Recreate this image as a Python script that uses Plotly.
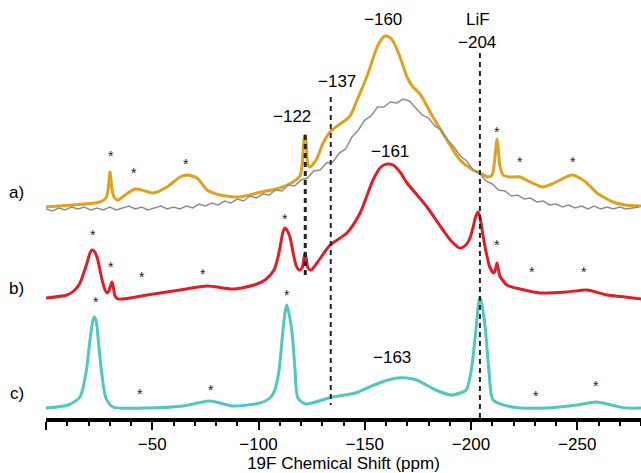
import plotly.graph_objects as go

# ---- data (ppm, offset intensity a.u.) ----
ppm_a = [0, 12.7, 25.4, 28.2, 29.2, 30.1, 31.1, 32.0, 33.9, 37.2, 41.9, 46.6, 50.4, 56.9, 63.1, 66.4,
         71.1, 75.8, 81.9, 91.3, 99.3, 110.1, 116.2, 119.5, 120.5, 121.4, 121.9, 122.4, 123.3, 124.2,
         127.1, 130.4, 133.7, 137.0, 139.8, 143.1, 146.4, 151.1, 155.8, 157.6, 159.5, 161.4, 163.3,
         166.6, 169.9, 172.7, 176.0, 182.1, 188.7, 194.8, 200.9, 204.2, 208.0, 209.9, 210.8, 211.8,
         212.2, 212.7, 213.6, 215.1, 218.4, 223.1, 227.8, 233.9, 238.1, 241.9, 247.5, 252.7, 256.0,
         259.3, 266.8, 272.5, 280]
int_a = [211, 213, 216, 220, 228, 246, 228, 221, 218, 223, 229, 227, 225, 231, 241, 243,
         240, 228, 223, 221, 225, 230, 236, 242, 253, 278, 283, 276, 253, 251,
         258, 275, 286, 292, 296, 302, 318, 342, 371, 378, 382, 381, 377,
         361, 341, 331, 324, 301, 278, 258, 248, 245, 241, 243, 252, 272,
         279, 272, 252, 243, 241, 241, 236, 231, 234, 238, 243, 238, 232,
         225, 216, 213, 212]

ppm_ref = [0, 3, 6, 9, 12, 15, 18, 21, 24, 27, 30, 33, 36, 39, 42, 45, 48, 51, 54, 57, 60, 63, 66,
           69, 72, 75, 78, 81, 84, 87, 90, 93, 96, 99, 102, 105, 108, 111, 114, 117, 120, 123, 126,
           129, 132, 135, 138, 141, 144, 147, 150, 153, 156, 159, 162, 165, 168, 171, 174, 177, 180,
           183, 186, 189, 192, 195, 198, 201, 204, 207, 210, 213, 216, 219, 222, 225, 228, 231, 234,
           237, 240, 243, 246, 249, 252, 255, 258, 261, 264, 267, 270, 273, 276, 279]
int_ref = [209, 207, 210, 208, 211, 209, 211, 208, 210, 208, 211, 208, 210, 212, 209, 211, 208, 210,
           212, 209, 211, 209, 212, 210, 214, 212, 215, 213, 217, 215, 219, 217, 222, 220, 224, 223,
           228, 227, 233, 232, 238, 240, 247, 248, 255, 256, 265, 269, 281, 288, 298, 302, 311, 311,
           316, 315, 319, 317, 310, 303, 300, 292, 288, 278, 271, 262, 257, 248, 245, 237, 234, 228,
           227, 222, 223, 219, 220, 216, 217, 213, 214, 211, 213, 210, 212, 209, 212, 209, 211, 209,
           211, 209, 210, 211]

ppm_b = [0, 9.9, 13.6, 16.0, 17.9, 19.3, 20.7, 21.6, 22.6, 24.0, 25.4, 26.4, 27.8, 28.7, 29.6, 30.6,
         31.1, 31.5, 32.5, 33.9, 47.5, 63.1, 75.8, 88.0, 97.9, 103.1, 107.3, 109.2, 110.6, 111.5,
         112.5, 113.4, 114.8, 116.2, 117.6, 119.1, 120.5, 121.4, 121.9, 122.4, 123.3, 124.7, 127.5,
         130.8, 133.7, 141.6, 147.8, 153.9, 157.6, 160.5, 163.3, 166.6, 169.9, 179.3, 186.8, 191.1,
         194.8, 197.6, 199.5, 200.9, 202.3, 203.3, 204.2, 205.6, 207.5, 209.0, 210.8, 211.8, 212.2,
         212.7, 213.6, 216.9, 223.1, 232.5, 245.2, 254.6, 264.0, 272.5, 280]
int_b = [120, 123, 128, 135, 146, 155, 165, 168, 167, 161, 148, 138, 128, 125, 127, 134,
         136, 133, 122, 119, 123, 128, 132, 129, 133, 138, 148, 161, 176, 186,
         190, 188, 181, 166, 153, 148, 150, 160, 165, 160, 150, 148, 155,
         165, 173, 185, 205, 238, 251, 254, 253, 246, 235, 211, 188, 176,
         170, 173, 180, 190, 202, 206, 201, 183, 162, 150, 145, 151, 155,
         151, 142, 133, 129, 125, 126, 128, 123, 121, 119]

ppm_c = [0, 10.5, 16.0, 18.8, 20.7, 21.9, 22.7, 23.7, 24.6, 26.2, 28.2, 31.5, 46.5, 64.5, 71.5, 77.1,
         81.9, 87.9, 100.5, 105.4, 107.7, 109.7, 111.3, 112.5, 113.3, 114.2, 115.9, 117.2, 118.5,
         122.1, 134.7, 145.6, 154.5, 159.5, 165.4, 169.9, 174.4, 183.4, 190.6, 194.8, 197.8, 200.0,
         202.3, 203.5, 204.2, 205.1, 206.8, 208.5, 210.4, 219.4, 235.6, 250.0, 259.0, 268.0, 273.4, 280]
int_c = [10, 13, 21, 45, 78, 96, 101, 96, 78, 45, 20, 11, 10, 12, 15, 17,
         15, 12, 15, 20, 28, 48, 83, 106, 113, 106, 83, 48, 20,
         14, 21, 25, 33, 37, 40, 40, 38, 28, 23, 25, 28, 46,
         88, 114, 121, 114, 88, 46, 18, 11, 10, 13, 16, 12, 10, 10]

# reference lines (ppm, y extent)
vline_ppm = [122, 134, 204.2]
vline_top = [283, 321, 365]
vline_bot = [143, 13, 0]
vline_w = [3, 2, 2]

# peak labels
label_text = ["−160", "LiF", "−204", "−137", "−122", "−161", "−163"]
label_ppm = [158.6, 203.5, 202.6, 136.8, 115.8, 161.9, 162.8]
label_y = [399, 399, 376, 337, 302, 267, 61]

# spinning sideband markers
star_ppm = [30.4, 41.4, 65.9, 212.3, 223.1, 247.9,
            22.1, 30.8, 45.2, 73.7, 112.6, 212.3, 228.7, 253.2,
            23.3, 113.3, 44.4, 77.6, 230.4, 258.9]
star_y = [262, 245, 254, 286, 256, 256,
          183, 151, 141, 144, 199, 173, 146, 146,
          116, 123, 24, 28, 22, 32]

spectrum_labels = ["a)", "b)", "c)"]
spectrum_label_y = [226, 130, 25]

xtick_vals = [0, -50, -100, -150, -200, -250]
xtick_text = ["", "−50", "−100", "−150", "−200", "−250"]

FONT = "Liberation Sans, Arial, Helvetica, sans-serif"

fig = go.Figure()
fig.add_trace(go.Scatter(x=[-p for p in ppm_a], y=int_a, mode="lines",
                         line=dict(color="#E0A11B", width=3, shape="spline", smoothing=0.7)))
fig.add_trace(go.Scatter(x=[-p for p in ppm_ref], y=int_ref, mode="lines",
                         line=dict(color="#8E8E8E", width=1.5)))
fig.add_trace(go.Scatter(x=[-p for p in ppm_b], y=int_b, mode="lines",
                         line=dict(color="#DC1F2A", width=3, shape="spline", smoothing=0.7)))
fig.add_trace(go.Scatter(x=[-p for p in ppm_c], y=int_c, mode="lines",
                         line=dict(color="#52C6C0", width=3, shape="spline", smoothing=0.7)))

for p, t, b, w in zip(vline_ppm, vline_top, vline_bot, vline_w):
    fig.add_trace(go.Scatter(x=[-p, -p], y=[t, b], mode="lines",
                             line=dict(color="#222222", width=w, dash="5px,4px")))

for txt, p, y in zip(label_text, label_ppm, label_y):
    fig.add_annotation(x=-p, y=y, text=txt, showarrow=False, xanchor="center", yanchor="middle",
                       font=dict(family=FONT, size=17, color="black"))

for p, y in zip(star_ppm, star_y):
    fig.add_annotation(x=-p, y=y, text="*", showarrow=False, xanchor="center", yanchor="middle",
                       font=dict(family=FONT, size=14, color="#222222"))

for txt, y in zip(spectrum_labels, spectrum_label_y):
    fig.add_annotation(xref="paper", x=-0.049, y=y, text=txt, showarrow=False,
                       xanchor="center", yanchor="middle",
                       font=dict(family=FONT, size=17, color="black"))

fig.update_layout(
    width=641, height=473,
    margin=dict(l=46, r=0, t=0, b=55),
    paper_bgcolor="white", plot_bgcolor="white",
    showlegend=False,
    xaxis=dict(range=[0, -280], tickmode="array", tickvals=xtick_vals, ticktext=xtick_text,
               showline=True, linecolor="black", linewidth=3.5, ticks="outside", ticklen=8,
               tickwidth=2, tickcolor="black", showgrid=False, zeroline=False,
               tickfont=dict(family=FONT, size=17, color="black"),
               minor=dict(tickmode="linear", tick0=0, dtick=10, ticks="outside", ticklen=4,
                          tickwidth=1.5, tickcolor="black", showgrid=False),
               title=dict(text="19F Chemical Shift (ppm)", standoff=2,
                          font=dict(family=FONT, size=17, color="black"))),
    yaxis=dict(range=[0, 418], visible=False),
)
fig.write_html("out.html", config={"displayModeBar": False},
               post_script="document.body.style.margin='0px';document.body.style.overflow='hidden';")
